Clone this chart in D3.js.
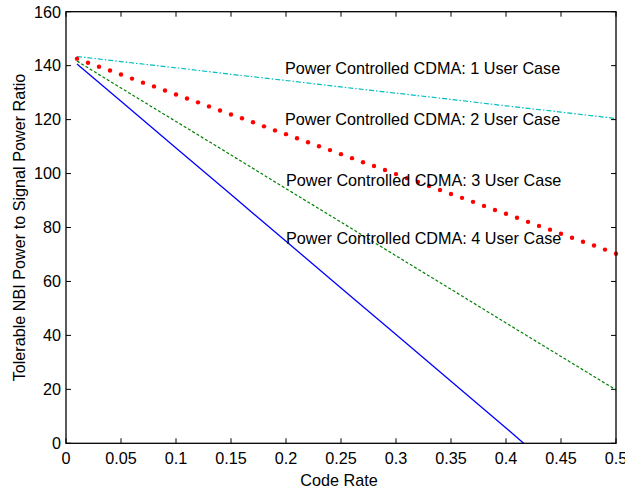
<!DOCTYPE html>
<html><head><meta charset="utf-8">
<script src="https://cdn.jsdelivr.net/npm/d3@7"></script>
<style>body{margin:0;background:#fff}svg text{font-family:"Liberation Sans",Arial,sans-serif;fill:#000}</style>
</head><body><svg id="c" width="625" height="490"></svg>
<script>
const xTicks = [0,0.05,0.1,0.15,0.2,0.25,0.3,0.35,0.4,0.45,0.5];
const yTicks = [0,20,40,60,80,100,120,140,160];
const lineX = [0.01,0.05,0.1,0.15,0.2,0.25,0.3,0.35,0.4,0.45,0.5];
const user1 = [143.4,141.5,139.2,136.8,134.5,132.1,129.8,127.5,125.1,122.8,120.4];
const user3 = [141.7,131.7,119.3,106.9,94.4,82.0,69.5,57.1,44.6,32.2,19.8];
const user4X = [0.01,0.05,0.1,0.15,0.2,0.25,0.3,0.35,0.4,0.416];
const user4 = [140.6,126.8,109.5,92.2,74.9,57.6,40.3,23.0,5.7,0];
const dotX = [0.01,0.02,0.03,0.04,0.05,0.06,0.07,0.08,0.09,0.1,0.11,0.12,0.13,0.14,0.15,0.16,0.17,0.18,0.19,0.2,0.21,0.22,0.23,0.24,0.25,0.26,0.27,0.28,0.29,0.3,0.31,0.32,0.33,0.34,0.35,0.36,0.37,0.38,0.39,0.4,0.41,0.42,0.43,0.44,0.45,0.46,0.47,0.48,0.49,0.5];
const user2 = [142.6,141.1,139.6,138.2,136.7,135.2,133.7,132.3,130.8,129.3,127.8,126.4,124.9,123.4,121.9,120.5,119.0,117.5,116.0,114.6,113.1,111.6,110.1,108.7,107.2,105.7,104.2,102.8,101.3,99.8,98.3,96.9,95.4,93.9,92.4,91.0,89.5,88.0,86.5,85.1,83.6,82.1,80.6,79.2,77.7,76.2,74.7,73.3,71.8,70.3];
const labels = ["Power Controlled CDMA: 1 User Case","Power Controlled CDMA: 2 User Case","Power Controlled CDMA: 3 User Case","Power Controlled CDMA: 4 User Case"];
const labelPos = [[0.199,136.9],[0.199,118.0],[0.2,95.4],[0.2,73.9]];

const svg = d3.select("#c");
const L=66, R=616, T=11.7, B=443.3;
const x = d3.scaleLinear().domain([0,0.5]).range([L,R]);
const y = d3.scaleLinear().domain([0,160]).range([B,T]);
const fs = 16.2;

const g = svg.append("g");
const tl = 5;
xTicks.forEach(t=>{
  g.append("line").attr("x1",x(t)).attr("x2",x(t)).attr("y1",B).attr("y2",B-tl).attr("stroke","#000");
  g.append("line").attr("x1",x(t)).attr("x2",x(t)).attr("y1",T).attr("y2",T+tl).attr("stroke","#000");
  g.append("text").attr("x",x(t)).attr("y",B+21).attr("text-anchor","middle").attr("font-size",fs).text(d3.format("")(t));
});
yTicks.forEach(t=>{
  g.append("line").attr("x1",L).attr("x2",L+tl).attr("y1",y(t)).attr("y2",y(t)).attr("stroke","#000");
  g.append("line").attr("x1",R).attr("x2",R-tl).attr("y1",y(t)).attr("y2",y(t)).attr("stroke","#000");
  g.append("text").attr("x",L-5).attr("y",y(t)).attr("dy","0.36em").attr("text-anchor","end").attr("font-size",fs).text(t);
});

const line = d3.line().x(d=>x(d[0])).y(d=>y(d[1]));
g.append("path").datum(lineX.map((v,i)=>[v,user1[i]])).attr("d",line).attr("fill","none").attr("stroke","#00bfbf").attr("stroke-width",1.2).attr("stroke-dasharray","5,2,1.5,2");
g.append("path").datum(lineX.map((v,i)=>[v,user3[i]])).attr("d",line).attr("fill","none").attr("stroke","#008000").attr("stroke-width",1.2).attr("stroke-dasharray","3,2");
g.append("path").datum(user4X.map((v,i)=>[v,user4[i]])).attr("d",line).attr("fill","none").attr("stroke","#0000ff").attr("stroke-width",1.3);
g.selectAll("circle.d").data(dotX.map((v,i)=>[v,user2[i]])).enter().append("circle")
  .attr("cx",d=>x(d[0])).attr("cy",d=>y(d[1])).attr("r",2.2).attr("fill","#ff0000");

g.append("rect").attr("x",L).attr("y",T).attr("width",R-L).attr("height",B-T).attr("fill","none").attr("stroke","#000").attr("stroke-width",1.3);

labels.forEach((s,i)=>{
  g.append("text").attr("x",x(labelPos[i][0])).attr("y",y(labelPos[i][1])).attr("font-size",fs).text(s);
});

g.append("text").attr("x",339).attr("y",486).attr("text-anchor","middle").attr("font-size",fs).text("Code Rate");
g.append("text").attr("transform",`translate(25,${(T+B)/2}) rotate(-90)`).attr("text-anchor","middle").attr("font-size",fs).text("Tolerable NBI Power to Signal Power Ratio");
</script></body></html>
